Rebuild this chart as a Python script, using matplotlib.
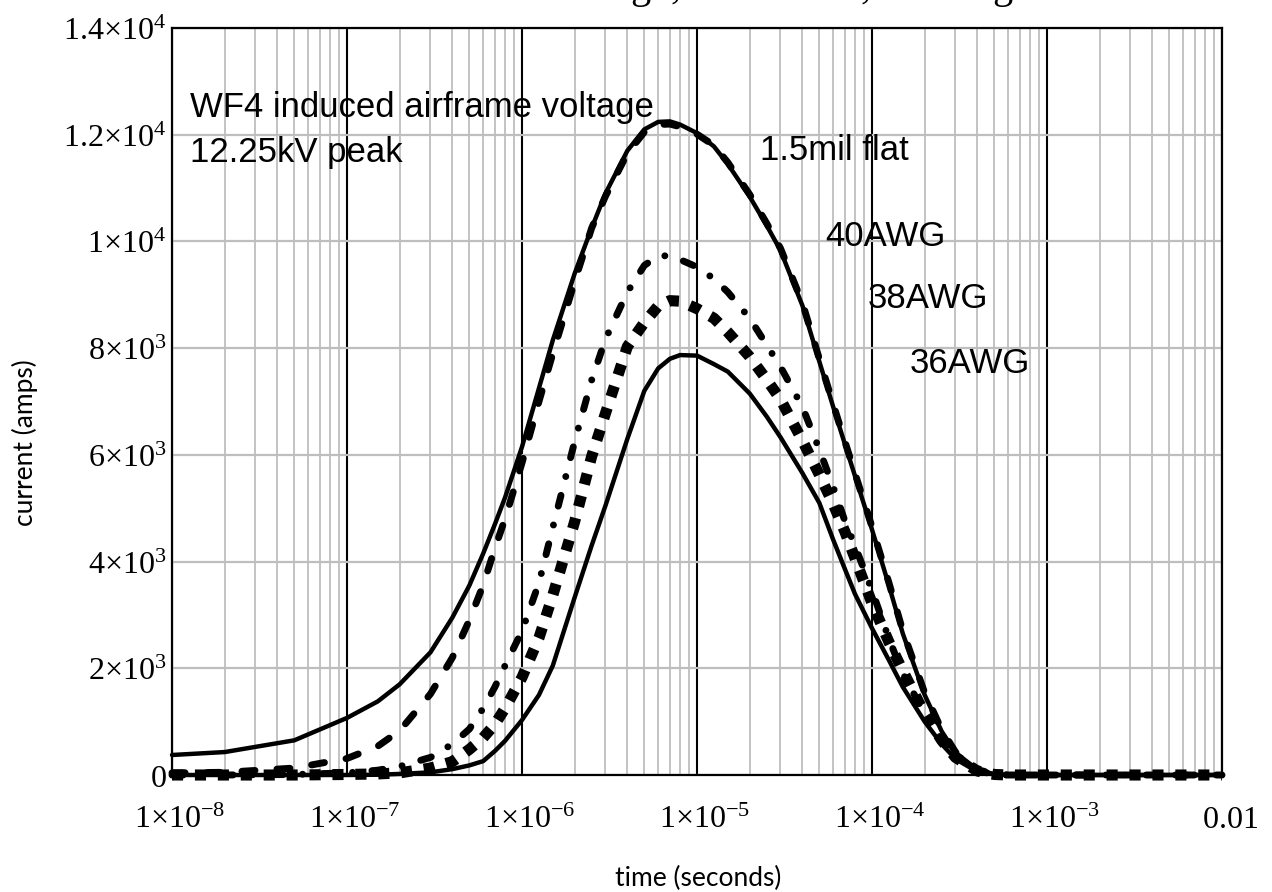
import numpy as np
import matplotlib
matplotlib.use('Agg')
import matplotlib.pyplot as plt
from matplotlib import transforms
from matplotlib.ticker import LogLocator, NullFormatter

plt.rcParams['mathtext.fontset'] = 'custom'
plt.rcParams['mathtext.rm'] = 'Liberation Serif'
plt.rcParams['mathtext.it'] = 'Liberation Serif:italic'
plt.rcParams['mathtext.bf'] = 'Liberation Serif:bold'
plt.rcParams['lines.scale_dashes'] = False

# time axis (seconds) and curves
time_s = [1e-8, 2e-8, 5e-8, 1e-7, 1.5e-7, 2e-7, 3e-7, 4e-7, 5e-7, 6e-7, 7e-7, 8e-7,
          1e-6, 1.25e-6, 1.5e-6, 2e-6, 2.5e-6, 3e-6, 4e-6, 5e-6, 6e-6, 7e-6, 8e-6,
          1e-5, 1.25e-5, 1.5e-5, 2e-5, 2.5e-5, 3e-5, 4e-5, 5e-5, 6e-5, 7e-5, 8e-5,
          1e-4, 1.25e-4, 1.5e-4, 2e-4, 2.5e-4, 3e-4, 4e-4, 5e-4, 6e-4,
          1e-3, 2e-3, 5e-3, 1e-2]
wf4_voltage = [375, 430, 650, 1070, 1380, 1700, 2300, 2950, 3550, 4150, 4700, 5200,
               6150, 7250, 8150, 9400, 10250, 10900, 11700, 12100, 12240, 12250, 12190,
               12030, 11780, 11450, 10840, 10300, 9830, 8800, 7750, 6900, 6200, 5600,
               4600, 3550, 2650, 1500, 820, 420, 100, 15, 0,
               0, 0, 0, 0]
flat_15mil = [40, 50, 130, 310, 540, 830, 1520, 2200, 2900, 3560, 4250, 4800,
              5850, 7000, 7900, 9250, 10250, 10850, 11650, 12050, 12190, 12200, 12150,
              12010, 11800, 11480, 10880, 10340, 9870, 8850, 7800, 6950, 6250, 5650,
              4650, 3600, 2700, 1540, 850, 430, 100, 20, 0,
              0, 0, 0, 0]
awg40 = [0, 0, 10, 40, 90, 160, 330, 580, 860, 1250, 1650, 2050,
         2700, 3600, 4640, 6250, 7400, 8170, 9050, 9550, 9730, 9730, 9660,
         9520, 9300, 9050, 8560, 8060, 7650, 6900, 6100, 5400, 4760, 4290,
         3460, 2550, 1900, 1150, 670, 350, 80, 10, 0,
         0, 0, 0, 0]
awg38 = [0, 0, 0, 10, 20, 40, 130, 250, 480, 700, 950, 1250,
         1830, 2570, 3370, 4750, 5970, 6780, 8030, 8480, 8790, 8890, 8880,
         8740, 8560, 8300, 7840, 7410, 7040, 6270, 5630, 5080, 4560, 4060,
         3220, 2490, 1950, 1150, 650, 330, 75, 10, 0,
         0, 0, 0, 0]
awg36 = [0, 0, 0, 0, 5, 20, 50, 110, 180, 260, 450, 640,
         1030, 1500, 2050, 3330, 4300, 5050, 6300, 7200, 7620, 7800, 7870,
         7860, 7700, 7560, 7150, 6720, 6330, 5660, 5100, 4410, 3860, 3390,
         2750, 2150, 1650, 1000, 580, 300, 60, 10, 0,
         0, 0, 0, 0]

xticks = [1e-8, 1e-7, 1e-6, 1e-5, 1e-4, 1e-3, 1e-2]
xlabels = [r'$1{\times}10^{-8}$', r'$1{\times}10^{-7}$', r'$1{\times}10^{-6}$',
           r'$1{\times}10^{-5}$', r'$1{\times}10^{-4}$', r'$1{\times}10^{-3}$', r'$0.01$']
yticks = [0, 2000, 4000, 6000, 8000, 10000, 12000, 14000]
ylabels = [r'$0$', r'$2{\times}10^{3}$', r'$4{\times}10^{3}$', r'$6{\times}10^{3}$',
           r'$8{\times}10^{3}$', r'$1{\times}10^{4}$', r'$1.2{\times}10^{4}$', r'$1.4{\times}10^{4}$']

fig = plt.figure(figsize=(12.72, 8.92), dpi=100)
ax = fig.add_axes([172/1272, 117/892, 1050/1272, 747/892])
ax.set_xscale('log')
ax.set_xlim(1e-8, 1e-2)
ax.set_ylim(0, 14000)

ax.set_xticks(xticks)
ax.set_xticklabels(xlabels, fontsize=23)
ax.xaxis.set_minor_locator(LogLocator(base=10, subs=np.arange(2, 10)))
ax.xaxis.set_minor_formatter(NullFormatter())
ax.set_yticks(yticks)
ax.set_yticklabels(ylabels, fontsize=23)
ax.tick_params(which='both', length=0)
ax.tick_params(axis='x', pad=21)
ax.tick_params(axis='y', pad=4)

ax.grid(which='minor', axis='x', color='#bebebe', lw=1.3)
ax.grid(which='major', axis='x', color='black', lw=1.5)
ax.grid(which='major', axis='y', color='#bebebe', lw=1.6)
for s in ax.spines.values():
    s.set_linewidth(1.6)

# shift x labels a touch right like the original
off = transforms.ScaledTranslation(8/100, 0, fig.dpi_scale_trans)
for lab in ax.get_xticklabels():
    lab.set_transform(lab.get_transform() + off)

ax.plot(time_s, wf4_voltage, color='black', lw=3.2, solid_capstyle='round',
        solid_joinstyle='round', clip_on=False)
ax.plot(time_s, flat_15mil, color='black', lw=5, linestyle=(0, (9.4, 15.8)),
        dash_capstyle='round', clip_on=False)
ax.plot(time_s, awg40, color='black', lw=5, linestyle=(0, (8, 14, 0.01, 14)),
        dash_capstyle='round', clip_on=False)
ax.plot(time_s, awg38, color='black', lw=8, linestyle=(0, (8, 8.5)),
        dash_capstyle='butt', clip_on=False)
ax.plot(time_s, awg36, color='black', lw=3.2, solid_capstyle='round',
        solid_joinstyle='round', clip_on=False)

txt = dict(family='Liberation Sans', fontsize=25, ha='left', va='baseline')
ax.text(1.27e-8, 12340, 'WF4 induced airframe voltage', **txt)
ax.text(1.27e-8, 11490, '12.25kV peak', **txt)
ax.text(2.3e-5, 11530, '1.5mil flat', **txt)
ax.text(5.38e-5, 9920, '40AWG', **txt)
ax.text(9.49e-5, 8760, '38AWG', **txt)
ax.text(1.65e-4, 7540, '36AWG', **txt)

fig.text(25/1272, 1 - 443/892, 'current (amps)', rotation=90, ha='center', va='center',
         family='Lato', fontsize=19)
fig.text(698/1272, 1 - 878/892, 'time (seconds)', ha='center', va='center',
         family='Lato', fontsize=19)

# bottom of the title line, cut off by the top edge of the image
for xp, frag in [(640, 'g'), (676, ','), (866, ','), (1002, 'g')]:
    fig.text(xp/1272, 1 + 2/892, frag, ha='center', va='baseline',
             family='Liberation Serif', fontsize=29)

fig.savefig('out.png', dpi=100)
